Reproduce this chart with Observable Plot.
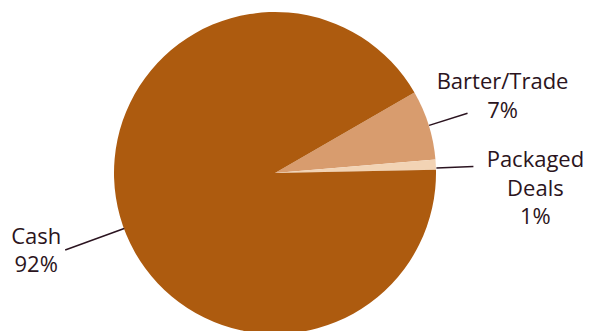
<!DOCTYPE html>
<html>
<head>
<meta charset="utf-8">
<script src="https://cdn.jsdelivr.net/npm/d3@7"></script>
<script src="https://cdn.jsdelivr.net/npm/@observablehq/plot@0.6"></script>
<style>
  html, body { margin: 0; padding: 0; background: #fff; }
  #chart svg { display: block; }
</style>
</head>
<body>
<div id="chart"></div>
<script>
// ---- data ----
const categories = ["Barter/Trade", "Packaged Deals", "Cash"];
const shares = [7, 1, 92];
const labelNames = ["Barter/Trade", "Packaged\nDeals", "Cash"];

// ---- styles ----
const sliceColors = ["#D89C6E", "#F2D3B4", "#AD5B0F"];
const inkColor = "#2B1420";
const colorOf = d3.scaleOrdinal(categories, sliceColors);
// leader/label layout per slice (angle shift in degrees, outer radius factor, text pixel offsets)
const labelLayout = [
  {shift: 0,    outer: 1.25, dx: 35,  dy: -19},
  {shift: 1,    outer: 1.23, dx: 62,  dy: 20},
  {shift: -4.4, outer: 1.39, dx: -29, dy: -1}
];

const rows = categories.map((c, i) => ({
  category: c,
  share: shares[i],
  label: labelNames[i] + "\n" + shares[i] + "%"
}));

const arcs = d3.pie()
  .sort(null)
  .value(d => d.share)
  .startAngle(Math.PI / 3)
  .endAngle(Math.PI / 3 + 2 * Math.PI)(rows);

const deg = Math.PI / 180;
const leaders = arcs.map((a, i) => {
  const L = labelLayout[i];
  const ang = (a.startAngle + a.endAngle) / 2 + L.shift * deg;
  return {
    ...a.data,
    x1: Math.sin(ang), y1: Math.cos(ang),
    x2: L.outer * Math.sin(ang), y2: L.outer * Math.cos(ang),
    dx: L.dx, dy: L.dy
  };
});

function pieSlices(index, scales) {
  const cx = scales.x(0), cy = scales.y(0);
  const r = scales.x(1) - cx;
  const arcGen = d3.arc().innerRadius(0).outerRadius(r);
  const g = d3.create("svg:g").attr("transform", `translate(${cx},${cy})`);
  g.selectAll("path")
    .data(arcs)
    .join("path")
    .attr("d", arcGen)
    .attr("fill", d => colorOf(d.data.category));
  return g.node();
}

const textMarks = leaders.map(d => Plot.text([d], {
  x: "x2", y: "y2", text: "label",
  dx: d.dx, dy: d.dy,
  textAnchor: "middle", lineAnchor: "middle",
  lineHeight: 1.29,
  fill: inkColor, fontSize: 22
}));

const chart = Plot.plot({
  width: 589,
  height: 331,
  margin: 0,
  style: {fontFamily: "'Open Sans', sans-serif", background: "#fff"},
  x: {domain: [-1, 1], range: [114, 436], axis: null},
  y: {domain: [-1, 1], range: [334, 12], axis: null},
  marks: [
    Plot.dot(leaders, {x: "x1", y: "y1", r: 0}),
    pieSlices,
    Plot.link(leaders, {x1: "x1", y1: "y1", x2: "x2", y2: "y2", stroke: inkColor, strokeWidth: 1.5}),
    ...textMarks
  ]
});
document.getElementById("chart").appendChild(chart);
</script>
</body>
</html>
